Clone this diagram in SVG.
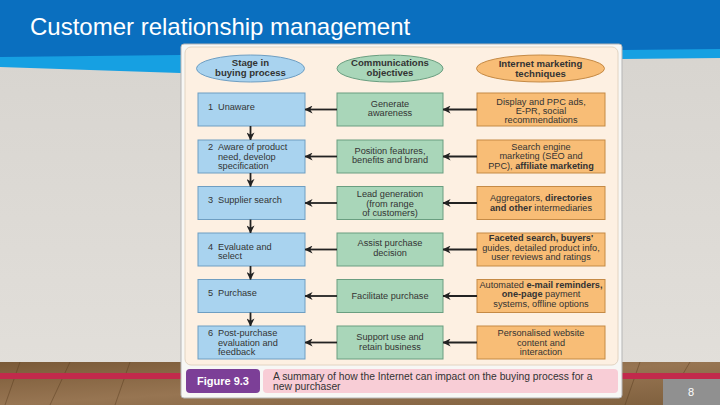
<svg xmlns="http://www.w3.org/2000/svg" width="720" height="405" viewBox="0 0 720 405">
<defs>
<linearGradient id="wall" x1="0" y1="0" x2="0" y2="1"><stop offset="0" stop-color="#d6d3ce"/><stop offset="1" stop-color="#e3e0db"/></linearGradient>
<linearGradient id="floor" x1="0" y1="0" x2="1" y2="1"><stop offset="0" stop-color="#7a5a38"/><stop offset="0.5" stop-color="#977552"/><stop offset="1" stop-color="#7e5f3d"/></linearGradient>
<marker id="ah" viewBox="0 0 10 10" refX="9.5" refY="5" markerWidth="8" markerHeight="8" markerUnits="userSpaceOnUse" orient="auto"><path d="M0,0 L10,5 L0,10 L3,5 z" fill="#222"/></marker>
<style>
text{font-family:"Liberation Sans",Arial,sans-serif;fill:#333;font-size:9.2px}
.c{text-anchor:middle}
.b{font-weight:bold}
.h{font-size:9.6px;font-weight:bold}
.blue{fill:#a9d3ef;stroke:#6e9ec2;stroke-width:1}
.green{fill:#a9d6b9;stroke:#6a9e80;stroke-width:1}
.orange{fill:#f8bd76;stroke:#c58a45;stroke-width:1}
.ar{stroke:#222;stroke-width:1.8;fill:none;marker-end:url(#ah)}
</style>
</defs>
<!-- background -->
<rect x="0" y="0" width="720" height="405" fill="url(#wall)"/>
<path d="M0,0 H720 V58 L622,59 Q400,80 180,73 L0,67 Z" fill="#16a0e2"/>
<path d="M0,0 H720 V49 L622,50 Q400,62 180,55 L0,57 Z" fill="#0a6fbf"/>
<text x="30" y="35" style="font-size:24px;fill:#ffffff">Customer relationship management</text>
<rect x="0" y="362" width="720" height="43" fill="url(#floor)"/>
<g stroke="#5a3f22" stroke-width="0.8" opacity="0.6">
<line x1="20" y1="362" x2="5" y2="405"/><line x1="70" y1="362" x2="50" y2="405"/><line x1="130" y1="362" x2="115" y2="405"/><line x1="640" y1="362" x2="625" y2="405"/><line x1="690" y1="362" x2="680" y2="379"/>
</g>
<rect x="0" y="373" width="720" height="6" fill="#c22a4c"/>
<rect x="663" y="379" width="57" height="26" fill="#909090"/>
<text x="691" y="396" class="c" style="font-size:11px;fill:#ffffff">8</text>
<!-- panel -->
<rect x="181" y="44" width="441" height="354" rx="3" fill="#f7f7f5" stroke="#b5b5b5"/>
<rect x="185" y="47" width="433" height="318" rx="6" fill="#fdf0e2" stroke="#e2d4c2"/>
<!-- headers -->
<g id="h-stage"><ellipse cx="250.5" cy="68.5" rx="54" ry="13.5" class="blue"/><text x="250.5" y="66" class="c h">Stage in</text><text x="250.5" y="76" class="c h">buying process</text></g>
<g id="h-comm"><ellipse cx="390" cy="68.5" rx="53" ry="13.5" class="green"/><text x="390" y="66" class="c h">Communications</text><text x="390" y="76" class="c h">objectives</text></g>
<g id="h-tech"><ellipse cx="540.5" cy="68.5" rx="64" ry="13.5" class="orange"/><text x="540.5" y="67" class="c h">Internet marketing</text><text x="540.5" y="77" class="c h">techniques</text></g>
<!-- stage boxes -->
<g id="s1"><rect x="198" y="93" width="107" height="33" class="blue"/><text y="110"><tspan x="208">1</tspan><tspan x="218">Unaware</tspan></text></g>
<g id="s2"><rect x="198" y="140" width="107" height="33" class="blue"/><text y="150"><tspan x="208">2</tspan><tspan x="218">Aware of product</tspan></text><text x="218" y="159.5">need, develop</text><text x="218" y="169">specification</text></g>
<g id="s3"><rect x="198" y="186.5" width="107" height="33" class="blue"/><text y="203"><tspan x="208">3</tspan><tspan x="218">Supplier search</tspan></text></g>
<g id="s4"><rect x="198" y="233" width="107" height="33" class="blue"/><text y="249.5"><tspan x="208">4</tspan><tspan x="218">Evaluate and</tspan></text><text x="218" y="259">select</text></g>
<g id="s5"><rect x="198" y="279.5" width="107" height="33" class="blue"/><text y="296"><tspan x="208">5</tspan><tspan x="218">Purchase</tspan></text></g>
<g id="s6"><rect x="198" y="326" width="107" height="33" class="blue"/><text y="336"><tspan x="208">6</tspan><tspan x="218">Post-purchase</tspan></text><text x="218" y="345.5">evaluation and</text><text x="218" y="355">feedback</text></g>
<!-- objectives -->
<g id="o1"><rect x="337" y="93" width="106" height="33" class="green"/><text x="390" y="107" class="c">Generate</text><text x="390" y="116" class="c">awareness</text></g>
<g id="o2"><rect x="337" y="140" width="106" height="33" class="green"/><text x="390" y="154" class="c">Position features,</text><text x="390" y="163" class="c">benefits and brand</text></g>
<g id="o3"><rect x="337" y="186.5" width="106" height="33" class="green"/><text x="390" y="197" class="c">Lead generation</text><text x="390" y="206.5" class="c">(from range</text><text x="390" y="216" class="c">of customers)</text></g>
<g id="o4"><rect x="337" y="233" width="106" height="33" class="green"/><text x="390" y="246" class="c">Assist purchase</text><text x="390" y="256" class="c">decision</text></g>
<g id="o5"><rect x="337" y="279.5" width="106" height="33" class="green"/><text x="390" y="299" class="c">Facilitate purchase</text></g>
<g id="o6"><rect x="337" y="326" width="106" height="33" class="green"/><text x="390" y="340" class="c">Support use and</text><text x="390" y="350" class="c">retain business</text></g>
<!-- techniques -->
<g id="t1"><rect x="477" y="93" width="128" height="33" class="orange"/><text x="541" y="104.5" class="c">Display and PPC ads,</text><text x="541" y="113.5" class="c">E-PR, social</text><text x="541" y="123" class="c">recommendations</text></g>
<g id="t2"><rect x="477" y="140" width="128" height="33" class="orange"/><text x="541" y="149.5" class="c">Search engine</text><text x="541" y="159" class="c">marketing (SEO and</text><text x="541" y="169" class="c">PPC), <tspan class="b">affiliate marketing</tspan></text></g>
<g id="t3"><rect x="477" y="186.5" width="128" height="33" class="orange"/><text x="541" y="201" class="c">Aggregators, <tspan class="b">directories</tspan></text><text x="541" y="210.5" class="c"><tspan class="b">and other</tspan> intermediaries</text></g>
<g id="t4"><rect x="477" y="233" width="128" height="33" class="orange"/><text x="541" y="241" class="c"><tspan class="b">Faceted search, buyers'</tspan></text><text x="541" y="250.5" class="c">guides, detailed product info,</text><text x="541" y="260" class="c">user reviews and ratings</text></g>
<g id="t5"><rect x="477" y="279.5" width="128" height="33" class="orange"/><text x="541" y="288" class="c">Automated <tspan class="b">e-mail reminders,</tspan></text><text x="541" y="297" class="c"><tspan class="b">one-page</tspan> payment</text><text x="541" y="306.5" class="c">systems, offline options</text></g>
<g id="t6"><rect x="477" y="326" width="128" height="33" class="orange"/><text x="541" y="336" class="c">Personalised website</text><text x="541" y="345.5" class="c">content and</text><text x="541" y="355" class="c">interaction</text></g>
<!-- connectors -->
<g id="connectors">
<line x1="477" y1="109.5" x2="443" y2="109.5" class="ar"/><line x1="337" y1="109.5" x2="305" y2="109.5" class="ar"/>
<line x1="477" y1="156.5" x2="443" y2="156.5" class="ar"/><line x1="337" y1="156.5" x2="305" y2="156.5" class="ar"/>
<line x1="477" y1="203" x2="443" y2="203" class="ar"/><line x1="337" y1="203" x2="305" y2="203" class="ar"/>
<line x1="477" y1="249.5" x2="443" y2="249.5" class="ar"/><line x1="337" y1="249.5" x2="305" y2="249.5" class="ar"/>
<line x1="477" y1="296" x2="443" y2="296" class="ar"/><line x1="337" y1="296" x2="305" y2="296" class="ar"/>
<line x1="477" y1="342.5" x2="443" y2="342.5" class="ar"/><line x1="337" y1="342.5" x2="305" y2="342.5" class="ar"/>
<line x1="250.5" y1="126" x2="250.5" y2="140" class="ar"/>
<line x1="250.5" y1="173" x2="250.5" y2="186.5" class="ar"/>
<line x1="250.5" y1="219.5" x2="250.5" y2="233" class="ar"/>
<line x1="250.5" y1="266" x2="250.5" y2="279.5" class="ar"/>
<line x1="250.5" y1="312.5" x2="250.5" y2="326" class="ar"/>
</g>
<!-- caption -->
<g id="caption">
<rect x="186" y="369" width="74" height="24" rx="4" fill="#7c3f97"/>
<text x="223" y="385" class="c b" style="fill:#ffffff;font-size:11px">Figure 9.3</text>
<rect x="263" y="369" width="355" height="24" rx="4" fill="#f8cdd6"/>
<text x="273" y="379.5" style="font-size:10.3px">A summary of how the Internet can impact on the buying process for a</text>
<text x="273" y="389.5" style="font-size:10.3px">new purchaser</text>
</g>
</svg>
